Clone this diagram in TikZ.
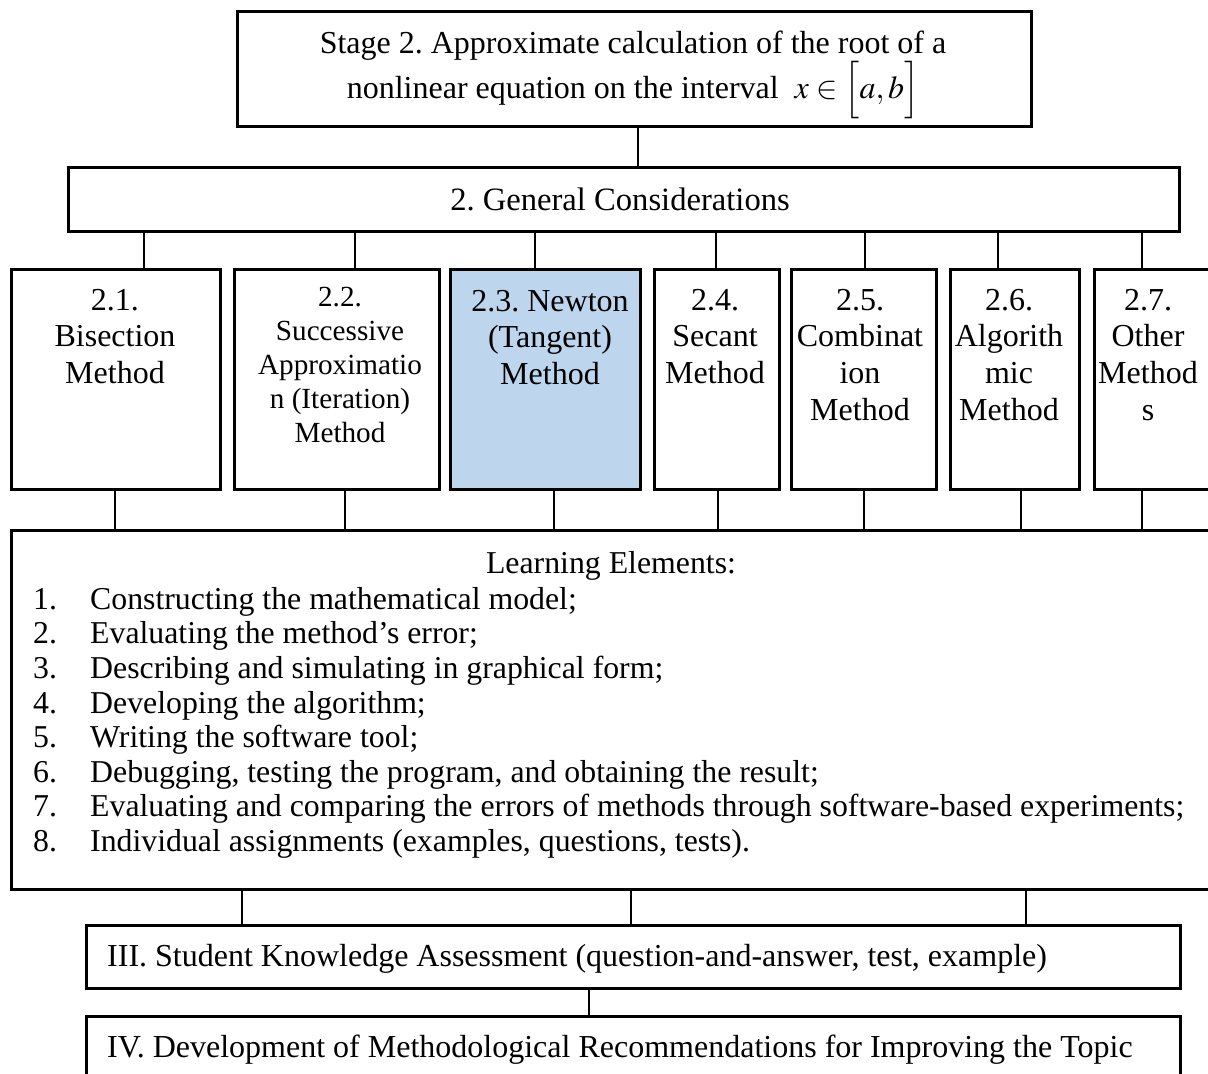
\documentclass[tikz,border=0pt]{standalone}
\usepackage{mathptmx}
\usepackage[no-math]{fontspec}
\setmainfont{Liberation Serif}
\frenchspacing
\definecolor{newtonblue}{RGB}{189,214,238}
\tikzset{
  box/.style={draw=black, line width=3pt, anchor=north west, inner sep=0pt, fill=white},
  conn/.style={draw=black, line width=2.4pt},
  mtxt/.style={anchor=north, inner sep=0pt, align=center, font=\fontsize{32}{36.6}\selectfont},
  stxt/.style={anchor=north, inner sep=0pt, align=center, font=\fontsize{29.2}{34}\selectfont},
}
\begin{document}
\begin{tikzpicture}[x=1pt,y=-1pt]
\useasboundingbox[fill=white] (0,0) rectangle (1208,1074);
% connector x positions
\coordinate (t0) at (638,0);
\coordinate (g1) at (144,0);
\coordinate (g2) at (355,0);
\coordinate (g3) at (535,0);
\coordinate (g4) at (716,0);
\coordinate (g5) at (865,0);
\coordinate (g6) at (998,0);
\coordinate (g7) at (1142,0);
\coordinate (l1) at (115,0);
\coordinate (l2) at (345,0);
\coordinate (l3) at (554,0);
\coordinate (l4) at (718,0);
\coordinate (l5) at (864,0);
\coordinate (l6) at (1021,0);
\coordinate (l7) at (1142,0);
\coordinate (c1) at (242,0);
\coordinate (c2) at (631,0);
\coordinate (c3) at (1026,0);
\coordinate (c4) at (589,0);

% boxes
\node[box, minimum width=794pt, minimum height=115pt] (top) at (236,10) {};
\node[box, minimum width=1111pt, minimum height=64pt] (gen) at (67,166) {};
\node[box, minimum width=209pt, minimum height=220pt] (m1) at (10,268) {};
\node[box, minimum width=205pt, minimum height=220pt] (m2) at (233,268) {};
\node[box, minimum width=190pt, minimum height=220pt, fill=newtonblue] (m3) at (449,268) {};
\node[box, minimum width=125pt, minimum height=220pt] (m4) at (653,268) {};
\node[box, minimum width=145pt, minimum height=220pt] (m5) at (790,268) {};
\node[box, minimum width=129pt, minimum height=220pt] (m6) at (949,268) {};
\node[box, minimum width=125pt, minimum height=220pt] (m7) at (1093,268) {};
\node[box, minimum width=1204pt, minimum height=359pt] (learn) at (10,529) {};
\node[box, minimum width=1094pt, minimum height=63pt] (ass) at (85,924) {};
\node[box, minimum width=1094pt, minimum height=80pt] (rec) at (85,1015) {};

% connectors
\draw[conn] (top.south -| t0) -- (gen.north -| t0);
\foreach \a/\b in {g1/m1,g2/m2,g3/m3,g4/m4,g5/m5,g6/m6,g7/m7}
  \draw[conn] (gen.south -| \a) -- (\b.north -| \a);
\foreach \a/\b in {l1/m1,l2/m2,l3/m3,l4/m4,l5/m5,l6/m6,l7/m7}
  \draw[conn] (\b.south -| \a) -- (learn.north -| \a);
\foreach \a in {c1,c2,c3}
  \draw[conn] (learn.south -| \a) -- (ass.north -| \a);
\draw[conn] (ass.south -| c4) -- (rec.north -| c4);

% texts
\node[inner sep=0pt, align=center, font=\fontsize{32}{43}\selectfont] (toptxt) at (633,75)
  {Stage 2. Approximate calculation of the root of a\\nonlinear equation on the interval \ $x\in\Bigl[a,b\Bigr]$};
\node[inner sep=0pt, font=\fontsize{32.6}{38}\selectfont] (gentxt) at (620,199) {2. General Considerations};
\node[mtxt] (m1t) at (115,289) {2.1.\\Bisection\\Method};
\node[stxt] (m2t) at (340,287) {2.2.\\Successive\\Approximatio\\n (Iteration)\\Method};
\node[mtxt] (m3t) at (550,290) {2.3. Newton\\(Tangent)\\Method};
\node[mtxt] (m4t) at (715,289) {2.4.\\Secant\\Method};
\node[mtxt] (m5t) at (860,289) {2.5.\\Combinat\\ion\\Method};
\node[mtxt] (m6t) at (1009,289) {2.6.\\Algorith\\mic\\Method};
\node[mtxt] (m7t) at (1148,289) {2.7.\\Other\\Method\\s};
\node[inner sep=0pt, font=\fontsize{31.8}{35}\selectfont] (lt) at (611,566) {Learning Elements:};
\node[anchor=north west, inner sep=0pt, align=left, font=\fontsize{31.8}{34.6}\selectfont] (list) at (33,587)
  {\makebox[57pt][l]{1.}Constructing the mathematical model;\\
   \makebox[57pt][l]{2.}Evaluating the method’s error;\\
   \makebox[57pt][l]{3.}Describing and simulating in graphical form;\\
   \makebox[57pt][l]{4.}Developing the algorithm;\\
   \makebox[57pt][l]{5.}Writing the software tool;\\
   \makebox[57pt][l]{6.}Debugging, testing the program, and obtaining the result;\\
   \makebox[57pt][l]{7.}Evaluating and comparing the errors of methods through software-based experiments;\\
   \makebox[57pt][l]{8.}Individual assignments (examples, questions, tests).};
\node[anchor=west, inner sep=0pt, font=\fontsize{32}{35}\selectfont] (asstxt) at (107,959)
  {III. Student Knowledge Assessment (question-and-answer, test, example)};
\node[anchor=west, inner sep=0pt, font=\fontsize{32}{35}\selectfont] (rectxt) at (107,1050)
  {IV. Development of Methodological Recommendations for Improving the Topic};
\end{tikzpicture}
\end{document}
